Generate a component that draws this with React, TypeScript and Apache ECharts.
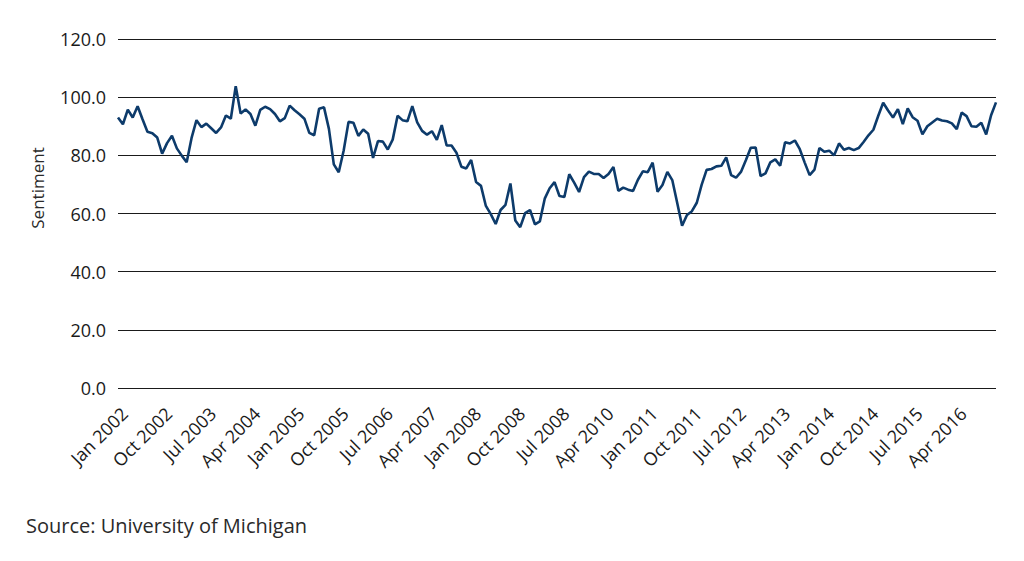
import React, { useEffect, useRef } from "react";
import * as echarts from "echarts";

const years = [2002, 2003, 2004, 2005, 2006, 2007, 2008, 2009, 2010, 2011, 2012, 2013, 2014, 2015, 2016];
const monthNames = ["Jan", "Feb", "Mar", "Apr", "May", "Jun", "Jul", "Aug", "Sep", "Oct", "Nov", "Dec"];
const categories: string[] = years.flatMap((y) => monthNames.map((m) => `${m} ${y}`));

const sentiment2002 = [93.0, 90.7, 95.7, 93.0, 96.9, 92.4, 88.1, 87.6, 86.1, 80.6, 84.2, 86.7];
const sentiment2003 = [82.4, 79.9, 77.6, 86.0, 92.1, 89.7, 90.9, 89.3, 87.7, 89.6, 93.7, 92.6];
const sentiment2004 = [103.8, 94.4, 95.8, 94.2, 90.2, 95.6, 96.7, 95.9, 94.2, 91.7, 92.8, 97.1];
const sentiment2005 = [95.5, 94.1, 92.6, 87.7, 86.9, 96.0, 96.5, 89.1, 76.9, 74.2, 81.6, 91.5];
const sentiment2006 = [91.2, 86.7, 88.9, 87.4, 79.1, 84.9, 84.7, 82.0, 85.4, 93.6, 92.1, 91.7];
const sentiment2007 = [96.9, 91.3, 88.4, 87.1, 88.3, 85.3, 90.4, 83.4, 83.4, 80.9, 76.1, 75.5];
const sentiment2008 = [78.4, 70.8, 69.5, 62.6, 59.8, 56.4, 61.2, 63.0, 70.3, 57.6, 55.3, 60.1];
const sentiment2009 = [61.2, 56.3, 57.3, 65.1, 68.7, 70.8, 66.0, 65.7, 73.5, 70.6, 67.4, 72.5];
const sentiment2010 = [74.4, 73.6, 73.6, 72.2, 73.6, 76.0, 67.8, 68.9, 68.2, 67.7, 71.6, 74.5];
const sentiment2011 = [74.2, 77.5, 67.5, 69.8, 74.3, 71.5, 63.7, 55.8, 59.5, 60.8, 63.7, 69.9];
const sentiment2012 = [75.0, 75.3, 76.2, 76.4, 79.3, 73.2, 72.3, 74.3, 78.3, 82.6, 82.7, 72.9];
const sentiment2013 = [73.8, 77.6, 78.6, 76.4, 84.5, 84.1, 85.1, 82.1, 77.5, 73.2, 75.1, 82.5];
const sentiment2014 = [81.2, 81.6, 80.0, 84.1, 81.9, 82.5, 81.8, 82.5, 84.6, 86.9, 88.8, 93.6];
const sentiment2015 = [98.1, 95.4, 93.0, 95.9, 90.7, 96.1, 93.1, 91.9, 87.2, 90.0, 91.3, 92.6];
const sentiment2016 = [92.0, 91.7, 91.0, 89.0, 94.7, 93.5, 90.0, 89.8, 91.2, 87.2, 93.8, 98.2];

const sentimentValues = [
  ...sentiment2002, ...sentiment2003, ...sentiment2004, ...sentiment2005, ...sentiment2006,
  ...sentiment2007, ...sentiment2008, ...sentiment2009, ...sentiment2010, ...sentiment2011,
  ...sentiment2012, ...sentiment2013, ...sentiment2014, ...sentiment2015, ...sentiment2016,
];

// Tick labels exactly as printed on the reference (every 9 months)
const tickLabels = [
  "Jan 2002", "Oct 2002", "Jul 2003", "Apr 2004", "Jan 2005", "Oct 2005", "Jul 2006",
  "Apr 2007", "Jan 2008", "Oct 2008", "Jul 2008", "Apr 2010", "Jan 2011", "Oct 2011",
  "Jul 2012", "Apr 2013", "Jan 2014", "Oct 2014", "Jul 2015", "Apr 2016",
];

const FONT = "'Open Sans', 'Noto Sans', sans-serif";

export default function App() {
  const ref = useRef<HTMLDivElement>(null);
  useEffect(() => {
    if (!ref.current) return;
    const chart = echarts.init(ref.current, undefined, { renderer: "svg" });
    chart.setOption({
      animation: false,
      backgroundColor: "#ffffff",
      grid: { left: 118, right: 28, top: 39, bottom: 173, containLabel: false },
      xAxis: {
        type: "category",
        data: categories,
        boundaryGap: false,
        axisLine: { show: false },
        axisTick: { show: false },
        splitLine: { show: false },
        axisLabel: {
          interval: 8,
          rotate: 45,
          margin: 16,
          verticalAlign: "top",
          fontSize: 18,
          fontFamily: FONT,
          color: "#1a1a1a",
          formatter: (_v: string, idx: number) => tickLabels[Math.round(idx / 9)] ?? "",
        },
      },
      yAxis: {
        type: "value",
        min: 0,
        max: 120,
        interval: 20,
        axisLine: { show: false },
        axisTick: { show: false },
        axisLabel: {
          margin: 12,
          fontSize: 18,
          fontFamily: FONT,
          color: "#1a1a1a",
          formatter: (v: number) => v.toFixed(1),
        },
        splitLine: { lineStyle: { color: "#1a1a1a", width: 1.2 } },
      },
      graphic: [
        {
          type: "text",
          x: 37,
          y: 188,
          rotation: Math.PI / 2,
          style: {
            text: "Sentiment",
            fontSize: 17,
            fontFamily: FONT,
            fill: "#2a2a2a",
            align: "center",
            verticalAlign: "middle",
          },
        },
        {
          type: "text",
          left: 26,
          top: 515,
          style: {
            text: "Source: University of Michigan",
            fontSize: 20,
            fontFamily: FONT,
            fill: "#2a2a2a",
          },
        },
      ],
      series: [
        {
          type: "line",
          data: sentimentValues,
          showSymbol: false,
          symbol: "none",
          lineStyle: { color: "#0d3b6b", width: 2.6 },
          itemStyle: { color: "#0d3b6b" },
        },
      ],
    });
    return () => chart.dispose();
  }, []);
  return (
    <div
      ref={ref}
      style={{ position: "fixed", left: 0, top: 0, width: 1024, height: 561 }}
    />
  );
}
